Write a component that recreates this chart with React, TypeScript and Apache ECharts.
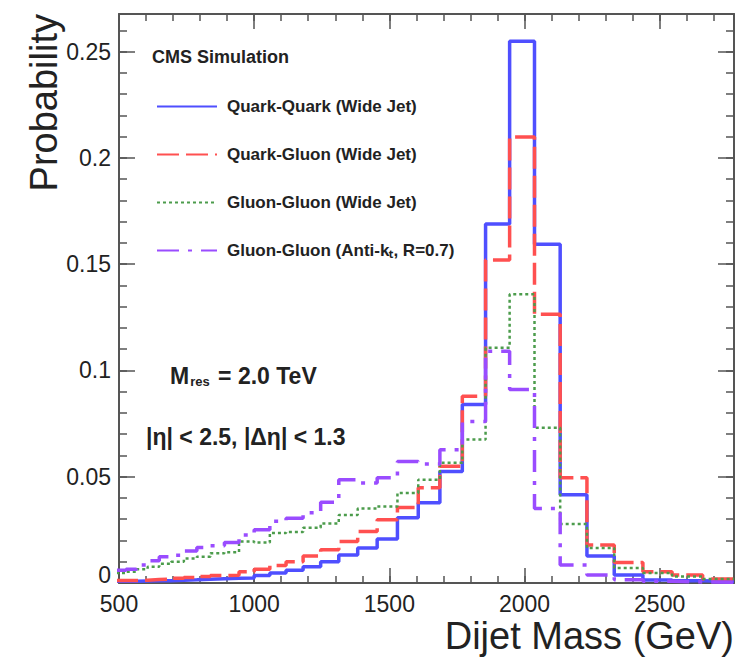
import React, { useEffect, useRef } from 'react';
import * as echarts from 'echarts';

// CMS dijet mass bin edges (GeV)
const binEdges = [489, 526, 565, 606, 649, 693, 740, 788, 838, 890, 944, 1000, 1058, 1118, 1181, 1246, 1313, 1383, 1455, 1530, 1607, 1687, 1770, 1856, 1945, 2037, 2132, 2231, 2332, 2438, 2546, 2659, 2775];

const quarkQuark = [0.0008, 0.0008, 0.0009, 0.0010, 0.0011, 0.0013, 0.0015, 0.0018, 0.0020, 0.0022,
  0.0024, 0.0035, 0.0047, 0.0060, 0.0077, 0.0100, 0.0132, 0.0165, 0.0207, 0.0307,
  0.0377, 0.0525, 0.0840, 0.1689, 0.2549, 0.1594, 0.0415, 0.0127, 0.0038, 0.0014,
  0.0010, 0.0007];

const quarkGluon = [0.0012, 0.0012, 0.0013, 0.0016, 0.0018, 0.0022, 0.0026, 0.0030, 0.0035, 0.0036,
  0.0053, 0.0065, 0.0082, 0.0100, 0.0127, 0.0156, 0.0195, 0.0242, 0.0297, 0.0355,
  0.0448, 0.0549, 0.0879, 0.1520, 0.2098, 0.1264, 0.0495, 0.0179, 0.0096, 0.0053,
  0.0038, 0.0019];

const gluonGluon = [0.0047, 0.0053, 0.0065, 0.0077, 0.0090, 0.0100, 0.0115, 0.0124, 0.0140, 0.0145,
  0.0195, 0.0190, 0.0235, 0.0240, 0.0260, 0.0280, 0.0320, 0.0350, 0.0360, 0.0424,
  0.0486, 0.0566, 0.0675, 0.1107, 0.1358, 0.0730, 0.0278, 0.0165, 0.0071, 0.0047,
  0.0030, 0.0019];

const gluonGluonAK = [0.0060, 0.0065, 0.0085, 0.0105, 0.0124, 0.0130, 0.0150, 0.0167, 0.0175, 0.0190,
  0.0226, 0.0250, 0.0290, 0.0305, 0.0330, 0.0380, 0.0486, 0.0470, 0.0495, 0.0572,
  0.0560, 0.0627, 0.0760, 0.1090, 0.0910, 0.0350, 0.0085, 0.0038, 0.0015, 0.0008,
  0.0005, 0.0003];

const seriesNames = [
  'Quark-Quark (Wide Jet)',
  'Quark-Gluon (Wide Jet)',
  'Gluon-Gluon (Wide Jet)',
  'Gluon-Gluon (Anti-k\u209C, R=0.7)',
];

const X_MIN = 500;
const X_MAX = 2775;
const Y_MIN = 0;
const Y_MAX = 0.2677;

const FONT = '"Liberation Sans", Arial, Helvetica, sans-serif';
const AX = '#555';
const TXT = '#222';

function steps(vals: number[]) {
  const pts: number[][] = [];
  vals.forEach((v, i) => {
    pts.push([binEdges[i], v]);
    pts.push([binEdges[i + 1], v]);
  });
  return pts;
}

const GRID = { left: 119, right: 7, top: 14, bottom: 81 };

function xAx(grid: number, pos: string, interval: number, major: boolean, labels: boolean) {
  return {
    gridIndex: grid,
    type: 'value',
    min: X_MIN,
    max: X_MAX,
    interval,
    position: pos,
    axisLine: { show: major, onZero: false, lineStyle: { color: AX, width: 2 } },
    axisTick: { show: true, inside: true, length: major ? 15 : 7, lineStyle: { color: AX, width: 1.5 } },
    splitLine: { show: false },
    axisLabel: {
      show: labels, showMaxLabel: false, fontSize: 23, color: TXT, margin: 9, fontFamily: FONT,
      formatter: (v: number) => String(v),
    },
  } as any;
}

function yAx(grid: number, pos: string, interval: number, major: boolean, labels: boolean) {
  return {
    gridIndex: grid,
    type: 'value',
    min: Y_MIN,
    max: Y_MAX,
    interval,
    position: pos,
    axisLine: { show: major, onZero: false, lineStyle: { color: AX, width: 2 } },
    axisTick: { show: true, inside: true, length: major ? 16 : 8, lineStyle: { color: AX, width: 1.5 } },
    splitLine: { show: false },
    axisLabel: {
      show: labels, showMaxLabel: false, fontSize: 23, color: TXT, margin: 8, fontFamily: FONT,
      formatter: (v: number) => (v === 0 ? '{z|0}' : String(Math.round(v * 100) / 100)),
      rich: { z: { fontSize: 23, color: TXT, fontFamily: FONT, padding: [0, 0, 16, 0] } },
    },
  } as any;
}

export default function App() {
  const ref = useRef<HTMLDivElement>(null);
  useEffect(() => {
    if (!ref.current) return;
    const chart = echarts.init(ref.current, undefined, { renderer: 'svg' });

    const xBottom = xAx(0, 'bottom', 500, true, true);
    xBottom.name = 'Dijet Mass (GeV)';
    xBottom.nameLocation = 'end';
    xBottom.nameGap = 0;
    xBottom.nameTextStyle = {
      fontSize: 38, color: TXT, fontFamily: FONT, align: 'right', verticalAlign: 'top', padding: [34, 0, 0, 0],
    };
    const yLeft = yAx(0, 'left', 0.05, true, true);
    yLeft.name = 'Probability';
    yLeft.nameLocation = 'end';
    yLeft.nameGap = 0;
    yLeft.nameRotate = 90;
    yLeft.nameTextStyle = {
      fontSize: 38, color: TXT, fontFamily: FONT, align: 'right', verticalAlign: 'bottom', padding: [0, 0, 56, 0],
    };

    const colors = ['#4f4fff', '#ff5050', '#4c9c4c', '#9a4cff'];
    const widths = [3.5, 3.5, 2.5, 3.5];
    const dashes: any[] = ['solid', [22, 7], [3, 3], [22, 9, 4, 9]];
    const datasets = [quarkQuark, quarkGluon, gluonGluon, gluonGluonAK];

    const option: any = {
      animation: false,
      backgroundColor: '#fff',
      grid: [
        { ...GRID },
        { ...GRID },
      ],
      xAxis: [
        xBottom,
        xAx(0, 'top', 500, true, false),
        xAx(1, 'bottom', 100, false, false),
        xAx(1, 'top', 100, false, false),
      ],
      yAxis: [
        yLeft,
        yAx(0, 'right', 0.05, true, false),
        yAx(1, 'left', 0.01, false, false),
        yAx(1, 'right', 0.01, false, false),
      ],
      legend: {
        orient: 'vertical',
        left: 151,
        top: 93,
        itemWidth: 60,
        itemHeight: 14,
        itemGap: 31,
        selectedMode: false,
        itemStyle: { color: 'rgba(0,0,0,0)', borderColor: 'rgba(0,0,0,0)', borderWidth: 0, opacity: 0 },
        textStyle: { fontSize: 17, fontWeight: 'bold', color: TXT, fontFamily: FONT, padding: [0, 0, 0, 5] },
        data: seriesNames,
      },
      series: datasets.map((d, i) => ({
        name: seriesNames[i],
        type: 'line',
        xAxisIndex: 0,
        yAxisIndex: 0,
        data: steps(d),
        symbol: 'none',
        showSymbol: false,
        clip: true,
        z: 2 + i,
        itemStyle: { color: colors[i] },
        lineStyle: { color: colors[i], width: widths[i], type: dashes[i] },
      })),
      graphic: [
        {
          type: 'text', x: 152, y: 57,
          style: { text: 'CMS Simulation', font: `bold 18px ${FONT}`, fill: TXT, verticalAlign: 'middle' },
        },
        {
          type: 'text', x: 170, y: 376,
          style: {
            text: '{a|M}{b|res}{a| = 2.0 TeV}',
            fill: TXT,
            verticalAlign: 'middle',
            rich: {
              a: { fontSize: 23, fontWeight: 'bold', fontFamily: FONT, fill: TXT },
              b: { fontSize: 13, fontWeight: 'bold', fontFamily: FONT, fill: TXT, verticalAlign: 'bottom', padding: [0, 2, 0, 1] },
            },
          },
        },
        {
          type: 'text', x: 146, y: 437,
          style: { text: '|\u03B7| < 2.5, |\u0394\u03B7| < 1.3', font: `bold 23px ${FONT}`, fill: TXT, verticalAlign: 'middle' },
        },
      ],
    };
    chart.setOption(option);
    return () => chart.dispose();
  }, []);
  return <div ref={ref} style={{ position: 'fixed', left: 0, top: 0, width: 741, height: 664 }} />;
}
